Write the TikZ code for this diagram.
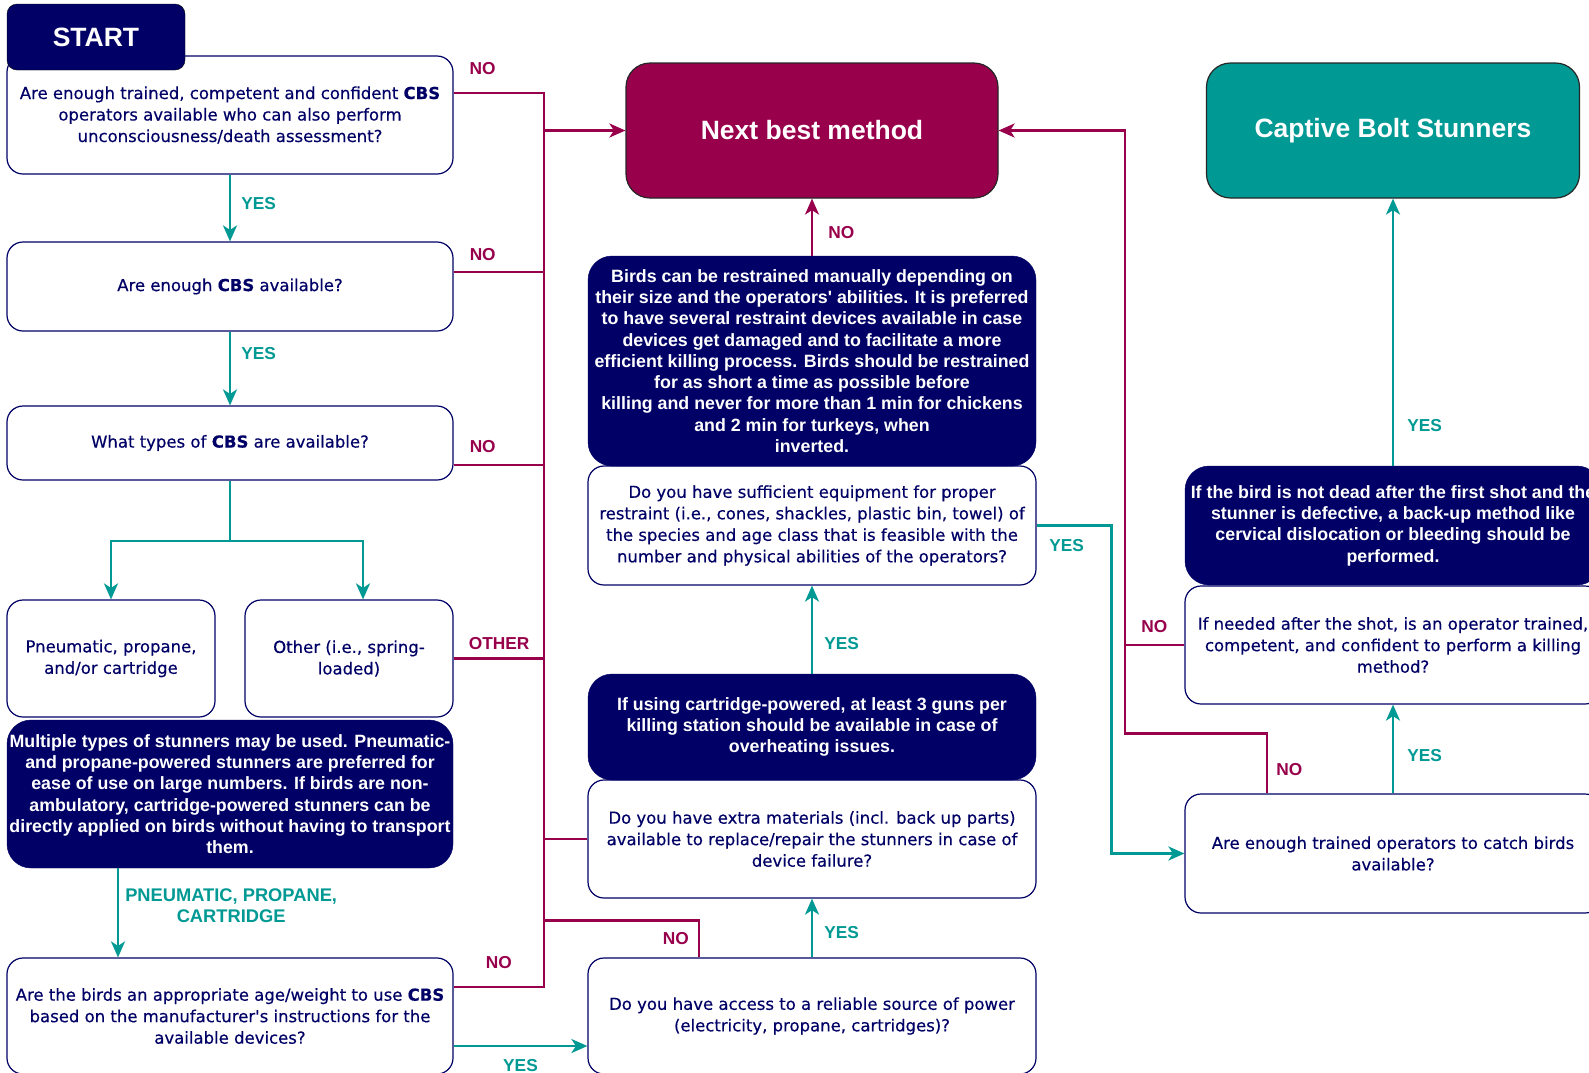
\documentclass[tikz,border=0pt]{standalone}
\usepackage{fontspec}
\setmainfont{Liberation Sans}
\newfontfamily\qfont{DejaVu Sans}[FakeBold=0.35]
\usetikzlibrary{arrows.meta}
\definecolor{navy}{HTML}{000066}
\definecolor{wine}{HTML}{99004C}
\definecolor{sea}{HTML}{009994}

\begin{document}
\begin{tikzpicture}[x=1pt,y=-1pt,
  question/.style={draw=navy, line width=1.2pt, rounded corners=16pt, fill=white, text=navy, align=center, inner sep=0pt, minimum width=446pt, font=\qfont\fontsize{16.5}{21.5}\selectfont},
  note/.style={draw=navy, fill=navy, rounded corners=24pt, text=white, align=center, inner sep=0pt, minimum width=448pt, font=\bfseries\fontsize{17.8}{21.3}\selectfont},
  goal/.style={draw=black!85, line width=1.2pt, rounded corners=24pt, text=white, inner sep=0pt, minimum width=372pt, minimum height=135pt, font=\bfseries\fontsize{26.5}{30}\selectfont},
  tag/.style={font=\bfseries\fontsize{17.3}{20}\selectfont, inner sep=0pt, align=center},
  yesline/.style={color=sea, line width=2.5pt},
  noline/.style={color=wine, line width=2.5pt},
  tip/.style={-{Stealth[length=16pt, width=14pt, inset=4.5pt]}}
]
\useasboundingbox (0,0) rectangle (1589,1072);
\clip (0,0) rectangle (1589,1072);
\fill[white] (0,0) rectangle (1589,1072);

\node[question, minimum height=118pt] (q1) at (230,115) {Are enough trained, competent and confident \textbf{CBS}\\operators available who can also perform\\unconsciousness/death assessment?};
\node[question, minimum height=89pt] (q2) at (230,286.5) {Are enough \textbf{CBS} available?};
\node[question, minimum height=74pt] (q3) at (230,443) {What types of \textbf{CBS} are available?};
\node[question, minimum width=208pt, minimum height=117pt] (pneu) at (111,658.5) {Pneumatic, propane,\\and/or cartridge};
\node[question, minimum width=208pt, minimum height=117pt] (other) at (349,658.5) {Other (i.e., spring-\\loaded)};
\node[question, minimum height=116pt] (q4) at (230,1016) {Are the birds an appropriate age/weight to use \textbf{CBS}\\based on the manufacturer\textquotesingle s instructions for the\\available devices?};
\node[question, minimum width=448pt, minimum height=119pt] (q5) at (812,525.5) {Do you have sufficient equipment for proper\\restraint (i.e., cones, shackles, plastic bin, towel) of\\the species and age class that is feasible with the\\number and physical abilities of the operators?};
\node[question, minimum width=448pt, minimum height=118pt] (q6) at (812,839) {Do you have extra materials (incl. back up parts)\\available to replace/repair the stunners in case of\\device failure?};
\node[question, minimum width=448pt, minimum height=116pt] (q7) at (812,1016) {Do you have access to a reliable source of power\\(electricity, propane, cartridges)?};
\node[question, minimum width=416pt, minimum height=118pt] (q9) at (1393,645) {If needed after the shot, is an operator trained,\\competent, and confident to perform a killing\\method?};
\node[question, minimum width=416pt, minimum height=119pt] (q8) at (1393,853.5) {Are enough trained operators to catch birds\\available?};

\node[note, draw=black, minimum width=178pt, minimum height=66pt, rounded corners=10pt, font=\bfseries\fontsize{26.5}{30}\selectfont] (start) at (96,37) {START};
\node[note, minimum width=446pt, minimum height=148pt] (multi) at (230,794) {Multiple types of stunners may be used. Pneumatic-\\and propane-powered stunners are preferred for\\ease of use on large numbers. If birds are non-\\ambulatory, cartridge-powered stunners can be\\directly applied on birds without having to transport\\them.};
\node[note, minimum height=210pt] (birds) at (812,361) {Birds can be restrained manually depending on\\their size and the operators\textquotesingle\ abilities. It is preferred\\to have several restraint devices available in case\\devices get damaged and to facilitate a more\\efficient killing process. Birds should be restrained\\for as short a time as possible before\\killing and never for more than 1 min for chickens\\and 2 min for turkeys, when\\inverted.};
\node[note, minimum height=106pt] (cart) at (812,727) {If using cartridge-powered, at least 3 guns per\\killing station should be available in case of\\overheating issues.};
\node[note, minimum width=416pt, minimum height=119pt] (dead) at (1393,525.5) {If the bird is not dead after the first shot and the\\stunner is defective, a back-up method like\\cervical dislocation or bleeding should be\\performed.};
\node[goal, fill=wine] (next) at (812,130.5) {Next best method};
\node[goal, fill=sea, minimum width=373pt] (bolt) at (1393,130.5) {Captive Bolt Stunners};

\draw[yesline, tip] (q1) -- node[tag, right=10pt, pos=0.43]{YES} (q2);
\draw[yesline, tip] (q2) -- node[tag, right=10pt, pos=0.3]{YES} (q3);
\coordinate (fork) at (230,541);
\draw[yesline] (q3) -- (fork);
\draw[yesline, tip] (fork) -| (pneu.north);
\draw[yesline, tip] (fork) -| ([xshift=14pt]other.north);
\draw[yesline, tip] ([xshift=-112pt]multi.south) -- node[tag, right=6pt, pos=0.42, font=\bfseries\fontsize{18.3}{20.5}\selectfont]{PNEUMATIC, PROPANE,\\CARTRIDGE} ([xshift=-112pt]q4.north);
\draw[yesline, tip] ([yshift=-30pt]q4.east) -- node[tag, below=12pt]{YES} ([yshift=-30pt]q7.west);
\draw[yesline, tip] (q7) -- node[tag, right=11pt, pos=0.42]{YES} (q6);
\draw[yesline, tip] (cart) -- node[tag, right=11pt, pos=0.34]{YES} (q5);
\draw[yesline, tip] (q5.east) -- node[tag, below=13pt, pos=0.4]{YES} ++(75,0) |- (q8.west);
\draw[yesline, tip] (q8) -- node[tag, right=13pt, pos=0.43]{YES} (q9);
\draw[yesline, tip] (dead) -- node[tag, right=13pt, pos=0.15]{YES} (bolt);

\coordinate (nt) at (544,93);
\coordinate (nb) at (544,987);
\draw[noline] ([yshift=22pt]q1.east) -- node[tag, above=17pt, pos=0.32]{NO} (nt) -- (nb) -- node[tag, above=17pt]{NO} ([yshift=29pt]q4.east);
\draw[noline] ([yshift=14.5pt]q2.east) -- node[tag, above=10pt, pos=0.32]{NO} ++(91,0);
\draw[noline] ([yshift=-22pt]q3.east) -- node[tag, above=11pt, pos=0.32]{NO} ++(91,0);
\draw[noline] (other.east) -- node[tag, above=8pt]{OTHER} ++(91,0);
\draw[noline] (q6.west) -- ++(-44,0);
\draw[noline] ([xshift=-113pt]q7.north) -- node[tag, left=9pt]{NO} ++(0,-37) -- ++(-155,0);
\draw[noline, tip] (nt |- next.west) -- (next.west);
\draw[noline, tip] (birds) -- node[tag, right=15pt, pos=0.4]{NO} (next);
\draw[noline, tip] ([xshift=-126pt]q8.north) -- node[tag, right=8pt, pos=0.4]{NO} ++(0,-60) -- ++(-142,0) |- (next.east);
\draw[noline] (q9.west) -- node[tag, above=11pt]{NO} ++(-60,0);
\end{tikzpicture}
\end{document}
